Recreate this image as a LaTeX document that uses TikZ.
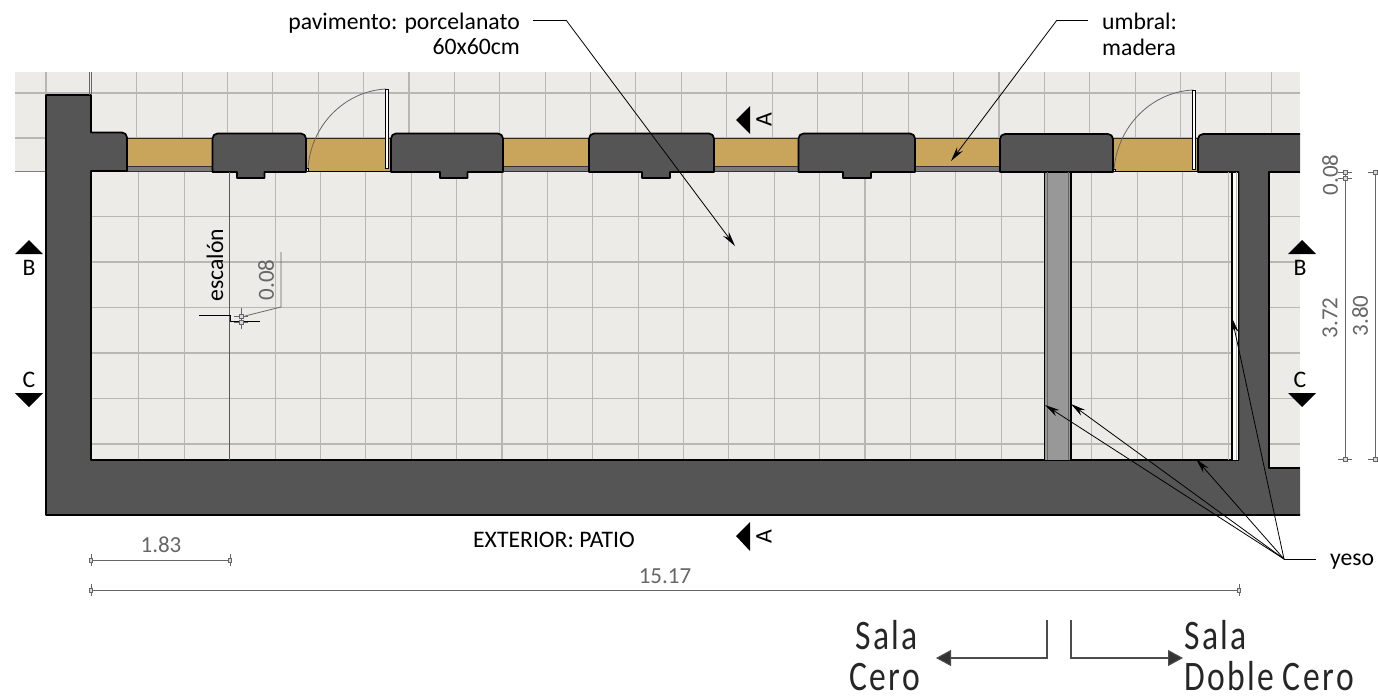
\documentclass[tikz,border=0pt]{standalone}
\usepackage{fontspec}
\setmainfont{Carlito}
\newfontfamily\salafont[LetterSpace=6,FakeStretch=0.8]{Carlito}
\usetikzlibrary{arrows.meta}
\definecolor{floorc}{HTML}{ECEBE7}
\definecolor{gridc}{HTML}{B8B7B3}
\definecolor{wallc}{HTML}{555555}
\definecolor{woodc}{HTML}{C9A55C}
\definecolor{partc}{HTML}{989898}
\definecolor{dimc}{HTML}{666666}
\tikzset{
  floorfill/.style={fill=floorc,draw=none},
  gridline/.style={draw=gridc,line width=1.1pt},
  wallshape/.style={fill=wallc,draw=black,line width=1.7pt,line join=round},
  wallline/.style={draw=black,line width=1.7pt,line join=round},
  wood/.style={fill=woodc,draw=none},
  sill/.style={fill=partc!80!black,draw=black!80,line width=.8pt},
  leaf/.style={fill=white,draw=black,line width=.6pt},
  swing/.style={draw=dimc,line width=.8pt},
  dimline/.style={draw=dimc,line width=.8pt},
  leader/.style={draw=black,line width=.8pt},
  leadarrow/.style={draw=black,line width=.8pt,-{Stealth[length=15pt,width=7pt]}},
  bigarrow/.style={draw=black!70,line width=1.1pt,-{Triangle[length=15pt,width=16pt,fill=black!80]}},
  marker/.style={fill=black,draw=none},
  lab/.style={font=\fontsize{23.7}{28}\selectfont,inner sep=0pt,text=black},
  dimlab/.style={font=\fontsize{23}{28}\selectfont,inner sep=0pt,text=dimc},
  sala/.style={font=\salafont\fontsize{42}{48}\selectfont,inner sep=0pt,text=black!85,anchor=base west},
}
\newcommand{\pierN}[4]{%
  \draw[wallshape,rounded corners=5pt] (#1,172) -- (#1,133.5) -- (#2,133.5) [sharp corners] -- (#2,172) -- (#4,172) -- (#4,178) -- (#3,178) -- (#3,172) -- cycle;}
\newcommand{\wtick}[2]{%
  \draw[dimline] (#1-7,#2) -- (#1+7,#2);
  \draw[dimline,fill=white!70!gray] (#1-2,#2-2) rectangle (#1+2,#2+2);}
\newcommand{\htick}[2]{%
  \draw[dimline] (#1,#2-6) -- (#1,#2+6);
  \draw[dimline,fill=white!70!gray] (#1-1.7,#2-2) rectangle (#1+1.7,#2+2);}
\begin{document}
\begin{tikzpicture}[x=1pt,y=-1pt]
\useasboundingbox (0,0) rectangle (1378,699);
% floor
\fill[floorfill] (15,72) rectangle (1300,171);
\fill[floorfill] (46,171) rectangle (1300,470);
% upper grid
\foreach \k in {0,...,27} \draw[gridline] ({46+45.38*\k},72) -- ({46+45.38*\k},172);
\draw[gridline] (15,93) -- (1300,93);
\draw[gridline] (15,138) -- (1300,138);
\draw[draw=gridc!70!black,line width=1pt] (15,171) -- (46,171);
% lower grid
\foreach \k in {-2,-1,0,...,21} \draw[gridline] ({229.7+45.38*\k},172) -- ({229.7+45.38*\k},460);
\foreach \yy in {216.5,262,307.5,353,398.5,444} \draw[gridline] (91,\yy) -- (1300,\yy);
% wood thresholds
\foreach \a/\b in {127/212.5,306/391,503/589,714/798.5,915/1000,1113/1198}
  \fill[wood] (\a,138.5) rectangle (\b,171.5);
\foreach \a/\b in {127/212.5,306/391,503/589,714/798.5,915/1000,1113/1198}
  \draw[draw=black!75!woodc,line width=.9pt] (\a,138.5) -- (\b,138.5);
\foreach \a/\b in {127/212.5,503/589,714/798.5,915/1000}
  \draw[sill] (\a,166) rectangle (\b,171.5);
\foreach \a/\b in {306/391,1113/1198}
  \draw[black,line width=.9pt] (\a,171.5) -- (\b,171.5);
% walls
\fill[wallc] (1300,515) -- (46,515) -- (46,95) -- (91,95) -- (91,132.5)
  [rounded corners=5pt] -- (127,132.5) [sharp corners] -- (127,171) -- (91,171) -- (91,460) -- (1238.5,460) -- (1238.5,172) -- (1198,172)
  [rounded corners=5pt] -- (1198,134) [sharp corners] -- (1300,134) -- (1300,172) -- (1269,172) -- (1269,468) -- (1300,468) -- cycle;
\draw[wallline] (1300,515) -- (46,515) -- (46,95) -- (91,95) -- (91,132.5)
  [rounded corners=5pt] -- (127,132.5) [sharp corners] -- (127,171) -- (91,171) -- (91,460) -- (1238.5,460) -- (1238.5,172) -- (1198,172)
  [rounded corners=5pt] -- (1198,134) [sharp corners] -- (1300,134);
\draw[wallline] (1300,172) -- (1269,172) -- (1269,468) -- (1300,468);
\pierN{212.5}{306}{237}{264.5}
\pierN{391}{503}{440}{467.5}
\pierN{589}{714}{642}{670}
\pierN{798.5}{915}{843}{871}
\draw[wallshape,rounded corners=5pt] (1000,172) -- (1000,134) -- (1113,134) [sharp corners] -- (1113,172) -- cycle;
% partition
\fill[partc] (1044,172.5) rectangle (1071,459.5);
\draw[draw=black,line width=1.7pt] (1044.5,172) -- (1044.5,460);
\draw[draw=black,line width=1.7pt] (1071,172) -- (1071,460);
\draw[draw=dimc,line width=.8pt] (1047.5,172) -- (1047.5,460);
\draw[draw=dimc,line width=.8pt] (1068,172) -- (1068,460);
% right lining
\fill[white!80!floorc] (1232,172.5) rectangle (1238,459.5);
\draw[draw=gridc,line width=1pt] (1228.5,172) -- (1228.5,460);
\draw[draw=black,line width=1.2pt] (1232,172) -- (1232,460);
\draw[draw=gridc,line width=.8pt] (1236,172) -- (1236,460);
\draw[wallline] (1238.5,172) -- (1238.5,460);
% step line
\draw[draw=black!65,line width=1.1pt] (229.5,172) -- (229.5,460);
% doors
\draw[swing] (308,168) .. controls (311,125) and (345,91) .. (386,89);
\draw[leaf] (385.5,89) rectangle (388.5,168);
\draw[leaf] (306.5,168) rectangle (308.5,171);
\draw[swing] (1114,170) .. controls (1117,127) and (1151,92) .. (1193,90);
\draw[leaf] (1192.5,90) rectangle (1195,169);
\draw[leaf] (1113,169) rectangle (1115,171.5);
\draw[draw=dimc,line width=.7pt] (89.5,72) -- (89.5,95);
\draw[draw=dimc,line width=.7pt] (91.5,72) -- (91.5,95);
% step mark
\coordinate (s1) at (199,315);
\coordinate (s2) at (230,315);
\coordinate (s3) at (230,321);
\coordinate (s4) at (260,321);
\draw[draw=black,line width=1pt] (s1) -- (s2) -- (s3) -- (s4);
\draw[dimline] (241,308) -- (241,329);
\wtick{241}{316}
\wtick{241}{322}
\coordinate (e1) at (245,316);
\coordinate (e2) at (281,307);
\coordinate (e3) at (281,252);
\draw[dimline] (e1) -- (e2) -- (e3);
\node[dimlab,rotate=90] (d008a) at (266,280) {0.08};
\node[lab,rotate=90] (escalon) at (215,265) {escalón};
% markers
\fill[marker] (736,120) -- (750,106) -- (750,134) -- cycle;
\node[lab,rotate=90] (a1) at (764,120) {A};
\fill[marker] (736,536) -- (750,522) -- (750,551) -- cycle;
\node[lab,rotate=90] (a2) at (764,537) {A};
\fill[marker] (15,254) -- (43,254) -- (29,240) -- cycle;
\node[lab] (b1) at (29,268) {B};
\fill[marker] (1288,254) -- (1316,254) -- (1302,240) -- cycle;
\node[lab] (b2) at (1300,268) {B};
\fill[marker] (15,393) -- (43,393) -- (29,407) -- cycle;
\node[lab] (c1) at (29,380) {C};
\fill[marker] (1288,393) -- (1316,393) -- (1302,407) -- cycle;
\node[lab] (c2) at (1300,380) {C};
% right dimensions
\coordinate (r1) at (1345,172);
\coordinate (r2) at (1345,459);
\coordinate (r3) at (1375,172);
\coordinate (r4) at (1375,459);
\draw[dimline] (r1) -- (r2);
\draw[dimline] (r3) -- (r4);
\wtick{1345}{172}
\wtick{1345}{178}
\wtick{1345}{459}
\wtick{1375}{172}
\wtick{1375}{459}
\node[dimlab,rotate=90] (d008b) at (1330,175) {0.08};
\node[dimlab,rotate=90] (d372) at (1330,318) {3.72};
\node[dimlab,rotate=90] (d380) at (1360,316) {3.80};
% bottom dimensions
\coordinate (b11) at (91,560);
\coordinate (b12) at (230,560);
\coordinate (b21) at (91,590);
\coordinate (b22) at (1239,590);
\draw[dimline] (b11) -- (b12);
\draw[dimline] (b21) -- (b22);
\htick{91}{560}
\htick{230}{560}
\htick{91}{590}
\htick{1239}{590}
\node[dimlab] (d183) at (161,545) {1.83};
\node[dimlab] (d1517) at (665,576) {15.17};
\node[lab] (patio) at (554,540) {EXTERIOR: PATIO};
% labels and leaders
\node[lab,anchor=base east] (pav1) at (520,29) {pavimento: porcelanato};
\node[lab,anchor=base east] (pav2) at (520,54) {60x60cm};
\coordinate (p0) at (533,20);
\coordinate (p1) at (566,20);
\coordinate (p2) at (735,246);
\draw[leader] (p0) -- (p1);
\draw[leadarrow] (p1) -- (p2);
\node[lab,anchor=base west] (umb1) at (1102,29) {umbral:};
\node[lab,anchor=base west] (umb2) at (1102,55) {madera};
\coordinate (u0) at (1088,20);
\coordinate (u1) at (1057,20);
\coordinate (u2) at (951,161);
\draw[leader] (u0) -- (u1);
\draw[leadarrow] (u1) -- (u2);
\node[lab,anchor=base west] (yeso) at (1330,565) {yeso};
\coordinate (y0) at (1316,559);
\coordinate (y1) at (1284,559);
\coordinate (y2) at (1045,405);
\coordinate (y3) at (1071,404);
\coordinate (y4) at (1196,459);
\coordinate (y5) at (1232,318);
\draw[leader] (y0) -- (y1);
\draw[leadarrow] (y1) -- (y2);
\draw[leadarrow] (y1) -- (y3);
\draw[leadarrow] (y1) -- (y4);
\draw[leadarrow] (y1) -- (y5);
% salas
\coordinate (sa0) at (1047,620);
\coordinate (sa1) at (1047,658);
\coordinate (sa2) at (936,658);
\coordinate (sb0) at (1071,620);
\coordinate (sb1) at (1071,658);
\coordinate (sb2) at (1183,658);
\draw[bigarrow] (sa0) -- (sa1) -- (sa2);
\draw[bigarrow] (sb0) -- (sb1) -- (sb2);
\node[sala] (s1a) at (855,649) {Sala};
\node[sala] (s1b) at (849,690) {Cero};
\node[sala] (s2a) at (1184,649) {Sala};
\node[sala] (s2b) at (1184,690) {Doble\hspace{8pt}Cero};
\end{tikzpicture}
\end{document}
